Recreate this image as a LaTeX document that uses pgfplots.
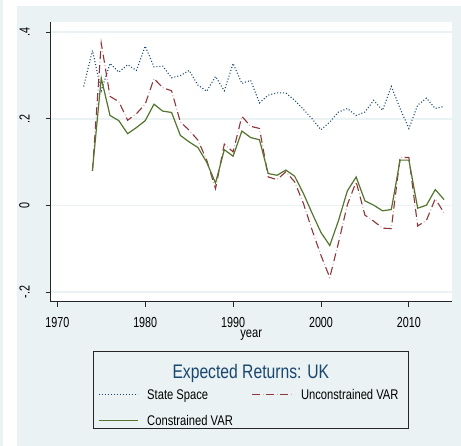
\documentclass[border=0pt]{standalone}
\usepackage{pgfplots}
\usepackage{pgfplotstable}
\pgfplotsset{compat=1.18}
\usepackage{fontspec}
\setmainfont{Liberation Sans}[FakeStretch=0.8]
\newfontfamily\tickfont{Liberation Sans}[FakeStretch=0.74]
\definecolor{bgc}{HTML}{EAF2F3}
\definecolor{snavy}{HTML}{1A476F}
\definecolor{smaroon}{HTML}{90353B}
\definecolor{sgreen}{HTML}{55752F}
\definecolor{spink}{HTML}{E0A8B0}

\pgfplotstableread{
year val
1973 0.275
1974 0.358
1975 0.265
1976 0.328
1977 0.308
1978 0.325
1979 0.312
1980 0.368
1981 0.320
1982 0.322
1983 0.295
1984 0.300
1985 0.312
1986 0.278
1987 0.264
1988 0.298
1989 0.265
1990 0.328
1991 0.282
1992 0.289
1993 0.237
1994 0.255
1995 0.260
1996 0.260
1997 0.243
1998 0.222
1999 0.200
2000 0.175
2001 0.193
2002 0.216
2003 0.224
2004 0.208
2005 0.216
2006 0.243
2007 0.220
2008 0.275
2009 0.224
2010 0.178
2011 0.232
2012 0.248
2013 0.224
2014 0.229
}\statespace

\pgfplotstableread{
year val
1974 0.082
1975 0.294
1976 0.208
1977 0.196
1978 0.166
1979 0.180
1980 0.196
1981 0.234
1982 0.218
1983 0.215
1984 0.162
1985 0.147
1986 0.134
1987 0.100
1988 0.052
1989 0.129
1990 0.114
1991 0.172
1992 0.157
1993 0.152
1994 0.074
1995 0.070
1996 0.082
1997 0.068
1998 0.028
1999 -0.018
2000 -0.062
2001 -0.092
2002 -0.034
2003 0.034
2004 0.066
2005 0.011
2006 0.001
2007 -0.012
2008 -0.009
2009 0.105
2010 0.105
2011 -0.006
2012 0.001
2013 0.037
2014 0.014
}\constrained

\pgfplotstableread{
year val
1974 0.080
1975 0.375
1976 0.252
1977 0.240
1978 0.197
1979 0.212
1980 0.234
1981 0.293
1982 0.272
1983 0.265
1984 0.193
1985 0.174
1986 0.151
1987 0.105
1988 0.039
1989 0.142
1990 0.124
1991 0.206
1992 0.183
1993 0.178
1994 0.066
1995 0.060
1996 0.078
1997 0.055
1998 0.005
1999 -0.057
2000 -0.115
2001 -0.166
2002 -0.085
2003 0.002
2004 0.055
2005 -0.022
2006 -0.036
2007 -0.052
2008 -0.053
2009 0.111
2010 0.111
2011 -0.047
2012 -0.034
2013 0.016
2014 -0.017
}\unconstrained

\begin{document}
\begin{tikzpicture}[x=1pt,y=1pt]
\useasboundingbox (0,0) rectangle (461,446);
\fill[white] (0,0) rectangle (461,446);
\fill[bgc] (0,0) rectangle (3,446);
\fill[bgc] (17,0) rectangle (461,440);
\begin{axis}[
  at={(50.7pt,144.3pt)}, anchor=south west,
  scale only axis, width=401pt, height=279.4pt,
  xmin=1969.25, xmax=2014.87, ymin=-0.2217, ymax=0.423,
  axis background/.style={fill=white},
  axis x line*=bottom, axis y line*=left,
  axis line style={black!85, line width=0.9pt},
  tick style={black!85, line width=0.9pt},
  tick align=outside, major tick length=5pt,
  xtick={1970,1980,1990,2000,2010},
  ytick={-0.2,0,0.2,0.4},
  yticklabels={-.2,0,.2,.4},
  /pgf/number format/assume math mode=true,
  /pgf/number format/1000 sep={},
  ticklabel style={font=\tickfont\fontsize{14.5}{16}\selectfont, inner sep=0pt},
  yticklabel style={rotate=90, anchor=south},
  yticklabel shift=16pt,
  xticklabel style={anchor=north},
  xticklabel shift=10.5pt,
  ymajorgrids,
  grid style={bgc, line width=1.6pt},
  xlabel={year},
  xlabel style={font=\fontsize{14}{16}\selectfont, inner sep=0pt,
    at={(axis description cs:0.5,0)}, anchor=north, yshift=-28.3pt},
  legend columns=2,
  legend cell align=left,
  legend image code/.code={\draw[#1] (0pt,0pt) -- (39pt,0pt);},
  legend style={draw=none, fill=none, inner sep=0pt, outer sep=0pt,
    font=\fontsize{14}{16}\selectfont,
    nodes={inner sep=0pt},
    row sep=14.5pt,
    at={(axis description cs:0.118,-0.3128)}, anchor=north west,
    /tikz/every odd column/.append style={column sep=9pt},
    /tikz/every even column/.append style={column sep=19pt, text height=10pt, text depth=3pt}},
]
\addplot[snavy, line width=1.1pt, dash pattern=on 1pt off 2pt] table[x=year,y=val] {\statespace};
\addplot[smaroon, line width=1.1pt, dash pattern=on 8pt off 6pt,
  legend image code/.code={
    \draw[smaroon, line width=1.1pt, dash pattern=on 8pt off 6pt] (0pt,0pt) -- (39pt,0pt);
    \draw[spink, line width=1.1pt, dash pattern=on 0pt off 10.5pt on 1pt off 2.5pt] (0pt,0pt) -- (39pt,0pt);}]
  table[x=year,y=val] {\unconstrained};
\addplot[spink, line width=1.1pt, dash pattern=on 0pt off 10.5pt on 1pt off 2.5pt, forget plot] table[x=year,y=val] {\unconstrained};
\addplot[sgreen, line width=1.2pt] table[x=year,y=val] {\constrained};
\legend{State Space, Unconstrained VAR, Constrained VAR}
\end{axis}
\draw[black!85, line width=1pt] (93.3,17) rectangle (408.3,94.3);
\node[font=\fontsize{19.6}{22}\selectfont, text=snavy] at (250.8,72.5) {Expected Returns: UK};
\end{tikzpicture}
\end{document}
